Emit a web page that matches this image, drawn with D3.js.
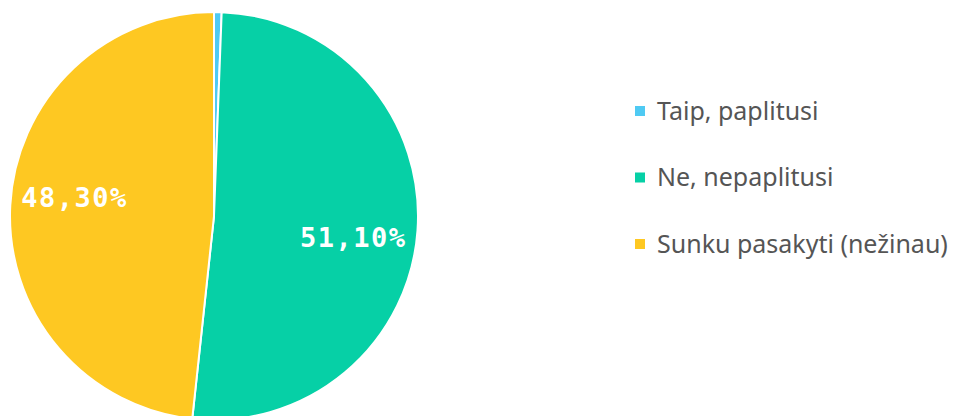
<!DOCTYPE html>
<meta charset="utf-8">
<head>
	<title>Paplitimas</title>
</head>

<style>
	body { margin: 0; background: #fff; }
	.legend text { font-family: "Noto Sans", sans-serif; font-size: 25px; fill: #555; }
	.pct { font-family: "DejaVu Sans Mono", monospace; font-weight: bold; font-size: 27px; fill: #fff; letter-spacing: 1.5px; }
</style>

<body>

	<div id="wrapper"></div>

	<script src='https://cdnjs.cloudflare.com/ajax/libs/d3/7.8.5/d3.min.js'></script>
	<script>

	var categories = ["Taip, paplitusi", "Ne, nepaplitusi", "Sunku pasakyti (nežinau)"];
	var values = [0.6, 51.1, 48.3];
	var labels = ["", "51,10%", "48,30%"];
	var colors = ["#4FCAF3", "#06D0A6", "#FEC822"];

	var width = 953, height = 416;
	var cx = 214, cy = 216, radius = 204;

	var svg = d3.select("#wrapper").append("svg")
		.attr("width", width)
		.attr("height", height);

	var color = d3.scaleOrdinal().domain(categories).range(colors);

	var pie = d3.pie().sort(null).value(function(d, i) { return values[i]; });
	var slices = pie(categories);

	var arc = d3.arc().innerRadius(0).outerRadius(radius);

	var g = svg.append("g").attr("transform", "translate(" + cx + "," + cy + ")");

	g.selectAll("path")
		.data(slices)
		.enter().append("path")
		.attr("d", arc)
		.attr("fill", function(d) { return color(d.data); })
		.attr("stroke", "#fff")
		.attr("stroke-width", 2);

	// labels sit a little clockwise of the slice middle
	var labelR = radius * 0.69, shift = 0.077;
	g.selectAll("text.pct")
		.data(slices)
		.enter().append("text")
		.attr("class", "pct")
		.attr("text-anchor", "middle")
		.attr("dy", "0.36em")
		.attr("x", function(d) { return labelR * Math.sin((d.startAngle + d.endAngle) / 2 + shift); })
		.attr("y", function(d) { return -labelR * Math.cos((d.startAngle + d.endAngle) / 2 + shift); })
		.text(function(d, i) { return labels[i]; });

	var legendY = d3.scalePoint().domain(categories).range([111, 244]);

	var legend = svg.append("g").attr("class", "legend")
		.selectAll("g")
		.data(categories)
		.enter().append("g")
		.attr("transform", function(d) { return "translate(635," + legendY(d) + ")"; });

	legend.append("rect")
		.attr("x", 0).attr("y", -5)
		.attr("width", 10).attr("height", 10)
		.attr("fill", function(d) { return color(d); });

	legend.append("text")
		.attr("x", 22)
		.attr("dy", "0.35em")
		.text(function(d) { return d; });

	</script>
</body>
